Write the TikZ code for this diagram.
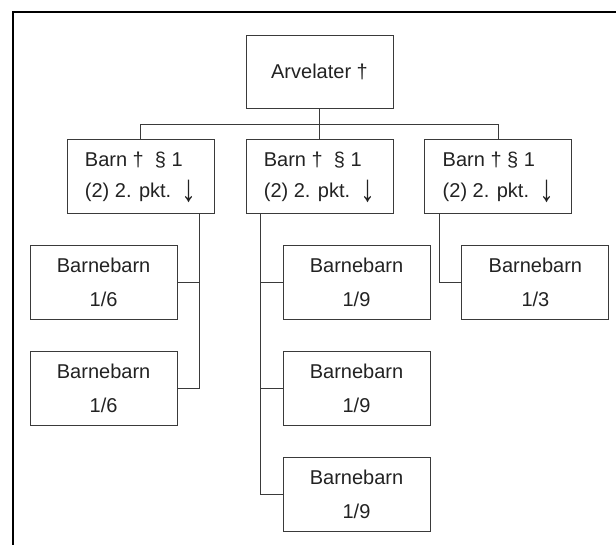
\documentclass[tikz,border=0pt]{standalone}
\usepackage{fontspec}
\setmainfont{Liberation Sans}
\usetikzlibrary{positioning}

\definecolor{boxgray}{HTML}{3A3A3A}
\definecolor{textgray}{HTML}{222222}

% long down arrow after "pkt."
\newcommand{\pktarrow}{\raisebox{-4pt}{\scalebox{1.5}[1.9]{↓}}}

\begin{document}
\begin{tikzpicture}[
        x=1pt, y=1pt,
        node distance=31pt and 31pt,
        every node/.style={draw=boxgray, line width=0.9pt, text=textgray, align=center, inner sep=0pt, minimum width=147pt, minimum height=74pt},
        root/.style={minimum height=73pt, font=\fontsize{20}{24}\selectfont},
        barn/.style={align=left, font=\fontsize{20}{31}\selectfont},
        bb/.style={font=\fontsize{20}{34}\selectfont},
        link/.style={draw=boxgray, line width=0.9pt}
    ]

    % Page and frame
    \useasboundingbox (0,0) rectangle (616,-545);
    \draw[line width=2pt] (13,-545) -- (13,-12) -- (616,-12);

    % Root
    \node[root] (root) at (319.5,-71.5) {Arvelater\ †};

    % Level 2: children
    \node[barn, below=of root] (barnB) {Barn †\ \ § 1\\(2) 2. pkt.\enspace\pktarrow};
    \node[barn, left=of barnB] (barnA) {Barn †\ \ § 1\\(2) 2. pkt.\enspace\pktarrow};
    \node[barn, right=of barnB] (barnC) {Barn † § 1\\(2) 2. pkt.\enspace\pktarrow};

    % Links Root -> children
    \coordinate (bus) at ([yshift=-16pt]root.south);
    \draw[link] (root) -- (barnB);
    \draw[link] (bus) -| (barnA);
    \draw[link] (bus) -| (barnC);

    % Level 3: grandchildren

    % Left child -> 2 x 1/6
    \node[bb, below=of barnA, xshift=-37pt] (bbA1) {Barnebarn\\1/6};
    \node[bb, below=of bbA1] (bbA2) {Barnebarn\\1/6};
    \draw[link] ([xshift=-15pt]barnA.south east) |- (bbA1);
    \draw[link] ([xshift=-15pt]barnA.south east) |- (bbA2);

    % Middle child -> 3 x 1/9
    \node[bb, below=of barnB, xshift=37pt] (bbB1) {Barnebarn\\1/9};
    \node[bb, below=of bbB1] (bbB2) {Barnebarn\\1/9};
    \node[bb, below=of bbB2] (bbB3) {Barnebarn\\1/9};
    \draw[link] ([xshift=14.5pt]barnB.south west) |- (bbB1);
    \draw[link] ([xshift=14.5pt]barnB.south west) |- (bbB2);
    \draw[link] ([xshift=14.5pt]barnB.south west) |- (bbB3);

    % Right child -> 1/3
    \node[bb, below=of barnC, xshift=37pt] (bbC1) {Barnebarn\\1/3};
    \draw[link] ([xshift=15pt]barnC.south west) |- (bbC1);

\end{tikzpicture}
\end{document}
